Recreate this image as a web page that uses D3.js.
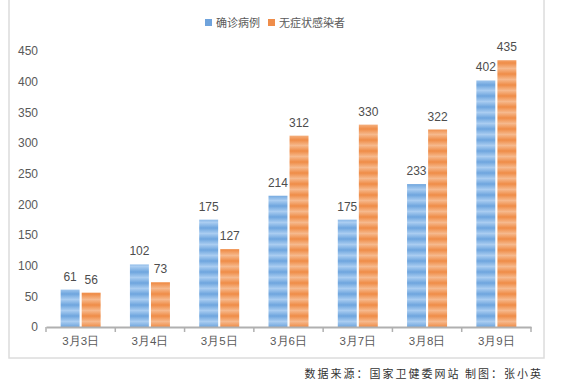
<!DOCTYPE html>
<html>
<head>
<meta charset="utf-8">
<script src="https://cdn.jsdelivr.net/npm/d3@7"></script>
<style>
  body { margin: 0; background: #fff; }
  text { font-family: "Liberation Sans", Arial, sans-serif; }
  .cjk { font-family: "Noto Sans CJK SC", sans-serif; }
</style>
</head>
<body>
<svg width="563" height="390"></svg>
<script>
var categories = ["3月3日", "3月4日", "3月5日", "3月6日", "3月7日", "3月8日", "3月9日"];
var seriesNames = ["确诊病例", "无症状感染者"];
var confirmed = [61, 102, 175, 214, 175, 233, 402];
var asymptomatic = [56, 73, 127, 312, 330, 322, 435];
var yTicks = [0, 50, 100, 150, 200, 250, 300, 350, 400, 450];

var svg = d3.select("svg");

// colours for the striped bars: [dark, light]
var palette = [["#6ea5de", "#aacdf1"], ["#ef8c47", "#f6b98d"]];
var legendColor = ["#6fa3dc", "#ef8d4a"];

var defs = svg.append("defs");
palette.forEach(function(c, i) {
    var g = defs.append("linearGradient")
        .attr("id", "grad" + i)
        .attr("x1", 0).attr("y1", 0).attr("x2", 0).attr("y2", 1);
    g.append("stop").attr("offset", "0%").attr("stop-color", c[0]);
    g.append("stop").attr("offset", "50%").attr("stop-color", c[1]);
    g.append("stop").attr("offset", "100%").attr("stop-color", c[0]);
    var p = defs.append("pattern")
        .attr("id", "stripe" + i)
        .attr("patternUnits", "userSpaceOnUse")
        .attr("width", 563).attr("height", 11)
        .attr("y", 327);
    p.append("rect").attr("width", 563).attr("height", 11).attr("fill", "url(#grad" + i + ")");
});

// frame
svg.append("rect")
    .attr("x", 9).attr("y", -2)
    .attr("width", 535).attr("height", 360)
    .attr("fill", "none")
    .attr("stroke", "#dcdcdc")
    .attr("stroke-width", 1.5);

var x0 = d3.scaleBand().domain(categories).range([46, 531]);
var bw = x0.bandwidth();
var x1 = d3.scaleBand().domain(seriesNames).range([bw / 2 - 20, bw / 2 + 20]).paddingInner(0.1);
var y = d3.scaleLinear().domain([0, 450]).range([327, 51]);

// y labels (no axis line)
svg.append("g").selectAll("text")
    .data(yTicks)
    .enter().append("text")
    .attr("x", 38)
    .attr("y", function(d) { return y(d); })
    .attr("dy", "0.35em")
    .attr("text-anchor", "end")
    .attr("font-size", 12)
    .attr("fill", "#595959")
    .text(function(d) { return d; });

// bars
var rows = categories.map(function(c, i) { return { cat: c, vals: [confirmed[i], asymptomatic[i]] }; });
var groups = svg.append("g").selectAll("g")
    .data(rows)
    .enter().append("g")
    .attr("transform", function(d) { return "translate(" + x0(d.cat) + ",0)"; });

groups.selectAll("rect")
    .data(function(d) { return d.vals.map(function(v, j) { return { v: v, s: seriesNames[j], j: j }; }); })
    .enter().append("rect")
    .attr("x", function(d) { return x1(d.s); })
    .attr("y", function(d) { return y(d.v); })
    .attr("width", x1.bandwidth())
    .attr("height", function(d) { return y(0) - y(d.v); })
    .attr("fill", function(d) { return "url(#stripe" + d.j + ")"; });

groups.selectAll("text")
    .data(function(d) { return d.vals.map(function(v, j) { return { v: v, s: seriesNames[j] }; }); })
    .enter().append("text")
    .attr("x", function(d) { return x1(d.s) + x1.bandwidth() / 2; })
    .attr("y", function(d) { return y(d.v) - 9; })
    .attr("text-anchor", "middle")
    .attr("font-size", 12)
    .attr("fill", "#4d4d4d")
    .text(function(d) { return d.v; });

// x axis
var xAxis = svg.append("g")
    .attr("transform", "translate(0,327)")
    .call(d3.axisBottom(x0).tickSize(0).tickPadding(10));
xAxis.select(".domain").attr("stroke", "#b0b0b0").attr("stroke-width", 2);
xAxis.selectAll("text")
    .attr("font-size", 11.5)
    .attr("fill", "#595959")
    .attr("font-family", "'Liberation Sans', 'Noto Sans CJK SC', sans-serif");
var edges = categories.map(function(c) { return x0(c); }).concat([x0.range()[1]]);
xAxis.selectAll(".sep")
    .data(edges)
    .enter().append("line")
    .attr("class", "sep")
    .attr("x1", function(d) { return d; })
    .attr("x2", function(d) { return d; })
    .attr("y1", 0).attr("y2", 5)
    .attr("stroke", "#b0b0b0")
    .attr("stroke-width", 1.5);

// legend
var legendX = [205, 268];
var legend = svg.append("g").selectAll("g")
    .data(seriesNames)
    .enter().append("g")
    .attr("transform", function(d, i) { return "translate(" + legendX[i] + ",19)"; });
legend.append("rect")
    .attr("width", 7).attr("height", 7)
    .attr("fill", function(d, i) { return legendColor[i]; });
legend.append("text")
    .attr("class", "cjk")
    .attr("x", 11).attr("y", 4)
    .attr("dy", "0.35em")
    .attr("font-size", 11)
    .attr("fill", "#595959")
    .text(function(d) { return d; });

// source note
svg.append("text")
    .attr("class", "cjk")
    .attr("x", 543).attr("y", 378)
    .attr("text-anchor", "end")
    .attr("font-size", 11)
    .attr("letter-spacing", 2)
    .attr("fill", "#333")
    .text("数据来源：国家卫健委网站 制图：张小英");
</script>
</body>
</html>
